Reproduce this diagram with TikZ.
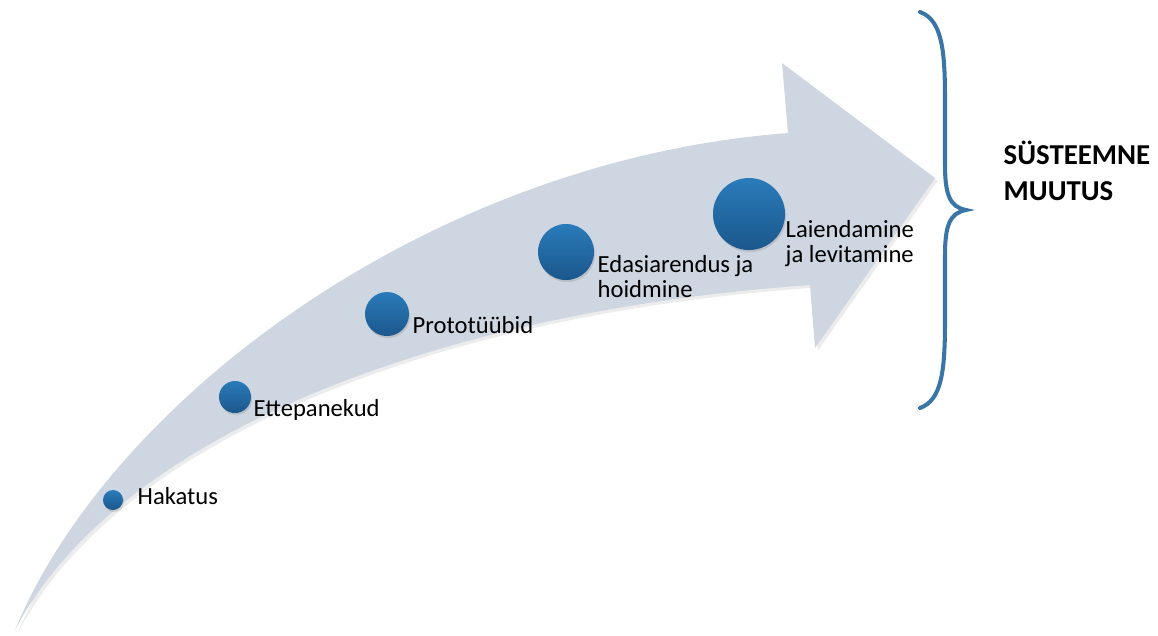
\documentclass[tikz,border=0pt]{standalone}
\usepackage{fontspec}
\setmainfont{Carlito}
\usetikzlibrary{shadows}
\definecolor{bandgray}{RGB}{206,214,225}
\definecolor{dottop}{RGB}{42,123,186}
\definecolor{dotbottom}{RGB}{27,87,140}
\definecolor{braceblue}{RGB}{58,117,168}
\tikzset{stagedot/.style={circle, inner sep=0pt, minimum size=#1, top color=dottop, bottom color=dotbottom, drop shadow={opacity=0.25, shadow xshift=0.3pt, shadow yshift=-0.6pt}}}
\tikzset{stagetext/.style={anchor=base west, inner sep=0pt, align=left, font=\fontsize{7}{7.1}\selectfont}}
\tikzset{goaltext/.style={anchor=base west, inner sep=0pt, align=left, font=\fontsize{8.2}{10}\selectfont\bfseries}}

\begin{document}
\begin{tikzpicture}[x=0.01cm, y=-0.01cm]
\useasboundingbox (0,0) rectangle (1158,635);

\fill[bandgray, drop shadow={opacity=0.15, shadow xshift=0.8pt, shadow yshift=-0.8pt}] (15,630) .. controls (110,400) and (430,160) .. (788,133) -- (782,63) -- (935,178) -- (815,348) -- (810,285) .. controls (450,310) and (120,430) .. (15,630) -- cycle;

\node[stagedot=0.2cm] (hakatus) at (113,500) {};
\node[stagedot=0.32cm] (ettepanekud) at (235,397) {};
\node[stagedot=0.44cm] (prototyybid) at (387,314) {};
\node[stagedot=0.56cm] (edasiarendus) at (566,252) {};
\node[stagedot=0.72cm] (laiendamine) at (749,214) {};

\node[stagetext] (hakatustext) at (137,504) {Hakatus};
\node[stagetext] (ettepanekudtext) at (253,416) {Ettepanekud};
\node[stagetext] (prototyybidtext) at (412,333) {Prototüübid};
\node[stagetext] (edasiarendustext) at (597,297) {Edasiarendus ja\\hoidmine};
\node[stagetext] (laiendaminetext) at (785,262) {Laiendamine\\ja levitamine};

\coordinate (bracetop) at (920,12);
\coordinate (bracetip) at (966,210);
\coordinate (bracebottom) at (920,408);
\draw[braceblue, line width=1.15pt, line cap=round] (bracetop) .. controls (942,20) and (945,50) .. (945,100) -- (945,165) .. controls (945,195) and (950,207) .. (bracetip) .. controls (950,213) and (945,225) .. (945,255) -- (945,320) .. controls (945,370) and (942,400) .. (bracebottom);

\node[goaltext] (muutus) at (1003,200) {SÜSTEEMNE\\MUUTUS};

\end{tikzpicture}
\end{document}
